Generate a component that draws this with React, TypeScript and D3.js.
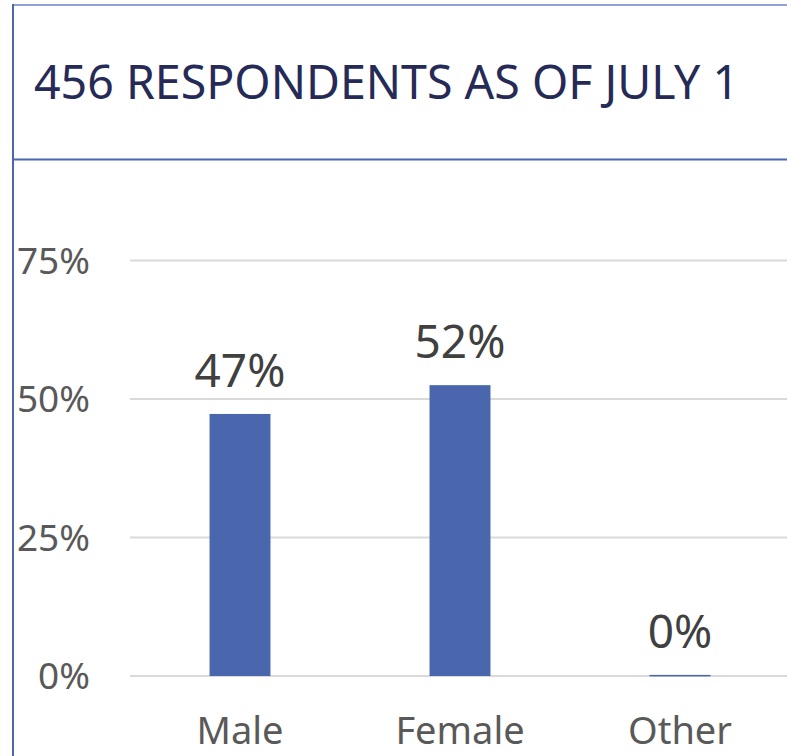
import React from "react";
import * as d3 from "d3";

// chart values
const categories = ["Male", "Female", "Other"];
const shares = [0.473, 0.525, 0.002];
const shareLabels = ["47%", "52%", "0%"];
const yTicks = [0, 0.25, 0.5, 0.75];
const title = "456 RESPONDENTS AS OF JULY 1";

const W = 787;
const H = 756;
const FONT = "'Noto Sans', 'Open Sans', sans-serif";

export default function App() {
  const x = d3.scaleBand<string>()
    .domain(categories)
    .range([130, 790])
    .paddingInner(0.723)
    .paddingOuter(0.3615);
  const y = d3.scaleLinear().domain([0, 1]).range([676, 122]);
  const fmt = d3.format(".0%");

  return (
    <svg width={W} height={H} style={{ position: "absolute", left: 0, top: 0, background: "#fff" }}>
      {/* frame */}
      <line x1={13} x2={W} y1={5} y2={5} stroke="#8fa2d0" strokeWidth={2} />
      <line x1={13} x2={13} y1={4} y2={H} stroke="#4a67b0" strokeWidth={2} />
      <line x1={13} x2={W} y1={159.5} y2={159.5} stroke="#4a67b0" strokeWidth={2} />

      <text x={34} y={99} fontFamily={FONT} fontSize={46.5} fill="#262a57">{title}</text>

      {/* gridlines + y ticks */}
      {yTicks.map((t) => (
        <g key={t}>
          <line x1={130} x2={W} y1={y(t)} y2={y(t)} stroke="#d9d9d9" strokeWidth={2} />
          <text x={90} y={y(t) + 13} textAnchor="end" fontFamily={FONT} fontSize={37} fill="#595959">
            {fmt(t)}
          </text>
        </g>
      ))}

      {/* bars */}
      {categories.map((c, i) => (
        <g key={c}>
          <rect
            x={x(c)}
            y={y(shares[i])}
            width={x.bandwidth()}
            height={Math.max(y(0) - y(shares[i]), 1.5)}
            fill="#4a67ae"
          />
          <text
            x={(x(c) as number) + x.bandwidth() / 2}
            y={y(shares[i]) - 27}
            textAnchor="middle"
            fontFamily={FONT}
            fontSize={46}
            fill="#404040"
          >
            {shareLabels[i]}
          </text>
          <text
            x={(x(c) as number) + x.bandwidth() / 2}
            y={744}
            textAnchor="middle"
            fontFamily={FONT}
            fontSize={38}
            fill="#595959"
          >
            {c}
          </text>
        </g>
      ))}
    </svg>
  );
}
